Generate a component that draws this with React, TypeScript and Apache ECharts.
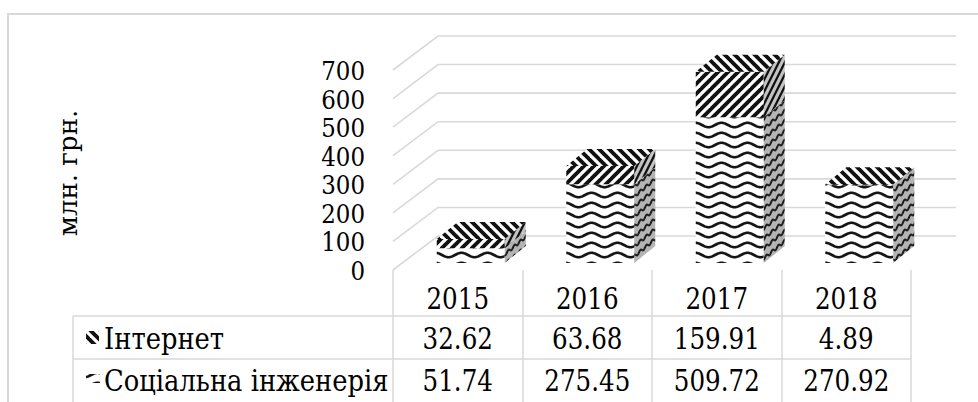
import React, { useEffect, useRef } from 'react';
import * as echarts from 'echarts';

const categories = ['2015', '2016', '2017', '2018'];
const seriesNames = ['Інтернет', 'Соціальна інженерія'];
const internet = [32.62, 63.68, 159.91, 4.89];
const social = [51.74, 275.45, 509.72, 270.92];
const yTicks = [0, 100, 200, 300, 400, 500, 600, 700];
const yAxisName = 'млн. грн.';

const FONT = 'DejaVu Serif';
const SX = 0.82;
const LINE = '#d9d9d9';
const WALL_DX = 45;
const WALL_DY = 34;
const FRONT_DX = 13;
const FRONT_DY = 7;
const BOX_DX = 21;
const BOX_DY = 17;
const FACE_RATIO = 0.525;
const HEAD_DY = 29;
const ROW1_DY = 69;
const ROW2_DY = 111;

type Ctx = CanvasRenderingContext2D;

function tile(w: number, h: number, draw: (ctx: Ctx, w: number, h: number) => void) {
  const c = document.createElement('canvas');
  c.width = w;
  c.height = h;
  const ctx = c.getContext('2d') as Ctx;
  draw(ctx, w, h);
  return { image: c, repeat: 'repeat', imageWidth: w, imageHeight: h } as any;
}

function makePatterns() {
  const waveFront = tile(26, 10, (ctx, w, h) => {
    ctx.fillStyle = '#ffffff';
    ctx.fillRect(0, 0, w, h);
    ctx.strokeStyle = '#151515';
    ctx.lineWidth = 2.6;
    ctx.beginPath();
    for (let x = -2; x <= w + 2; x += 0.5) {
      const y = h / 2 + 2.2 * Math.sin((2 * Math.PI * x) / w);
      if (x === -2) ctx.moveTo(x, y);
      else ctx.lineTo(x, y);
    }
    ctx.stroke();
  });
  const waveSide = tile(12, 10, (ctx, w, h) => {
    ctx.fillStyle = '#b4b4b4';
    ctx.fillRect(0, 0, w, h);
    ctx.strokeStyle = '#1e1e1e';
    ctx.lineWidth = 2;
    for (let k = -1; k <= 2; k++) {
      ctx.beginPath();
      for (let x = -1; x <= w + 1; x += 0.5) {
        const y = 5 + k * h - (h / w) * x + 1.4 * Math.sin((2 * Math.PI * x) / 6);
        if (x === -1) ctx.moveTo(x, y);
        else ctx.lineTo(x, y);
      }
      ctx.stroke();
    }
  });
  const stripeFront = tile(10, 10, (ctx, w, h) => {
    ctx.fillStyle = '#ffffff';
    ctx.fillRect(0, 0, w, h);
    ctx.strokeStyle = '#111111';
    ctx.lineWidth = 3.8;
    for (const c of [-10, 0, 10, 20, 30]) {
      ctx.beginPath();
      ctx.moveTo(c + 2, -2);
      ctx.lineTo(c - 12, 12);
      ctx.stroke();
    }
  });
  const stripeTop = tile(10, 10, (ctx, w, h) => {
    ctx.fillStyle = '#ffffff';
    ctx.fillRect(0, 0, w, h);
    ctx.strokeStyle = '#111111';
    ctx.lineWidth = 3.8;
    for (const c of [-20, -10, 0, 10, 20]) {
      ctx.beginPath();
      ctx.moveTo(c - 2, -2);
      ctx.lineTo(c + 12, 12);
      ctx.stroke();
    }
  });
  const stripeSide = tile(6, 12, (ctx, w, h) => {
    ctx.fillStyle = '#c4c4c4';
    ctx.fillRect(0, 0, w, h);
    ctx.strokeStyle = '#111111';
    ctx.lineWidth = 2.2;
    for (const c of [-1, 0, 1]) {
      ctx.beginPath();
      ctx.moveTo(c * 6 - 1, 14);
      ctx.lineTo(c * 6 + 7, -2);
      ctx.stroke();
    }
  });
  return { waveFront, waveSide, stripeFront, stripeTop, stripeSide };
}

function boxRenderer(front: any, side: any, top: any) {
  return (params: any, api: any) => {
    const i = api.value(0);
    const base = api.value(1);
    const topV = api.value(2);
    const p0 = api.coord([i, base]);
    const p1 = api.coord([i, topV]);
    const bw = api.size([1, 0])[0];
    const fw = bw * FACE_RATIO;
    const cx = p0[0] + FRONT_DX;
    const L = cx - fw / 2;
    const R = cx + fw / 2;
    const yb = p0[1] - FRONT_DY;
    const yt = p1[1] - FRONT_DY;
    return {
      type: 'group',
      children: [
        { type: 'rect', shape: { x: L, y: yt, width: fw, height: yb - yt }, style: { fill: front } },
        {
          type: 'polygon',
          shape: { points: [[R, yb], [R, yt], [R + BOX_DX, yt - BOX_DY], [R + BOX_DX, yb - BOX_DY]] },
          style: { fill: side },
        },
        {
          type: 'polygon',
          shape: { points: [[L, yt], [R, yt], [R + BOX_DX, yt - BOX_DY], [L + BOX_DX, yt - BOX_DY]] },
          style: { fill: top },
        },
      ],
    };
  };
}

function textEl(text: string, x: number, y: number, align: string, size: number, sx: number, extra?: any) {
  return {
    type: 'text',
    x,
    y,
    scaleX: sx,
    silent: true,
    style: {
      text,
      x: 0,
      y: 0,
      align,
      textAlign: align,
      verticalAlign: 'middle',
      textVerticalAlign: 'middle',
      fontSize: size,
      fontFamily: FONT,
      fill: '#000000',
    },
    ...(extra || {}),
  };
}

export default function App() {
  const ref = useRef<HTMLDivElement>(null);

  useEffect(() => {
    document.body.style.margin = '0';
    if (!ref.current) return;
    const chart = echarts.init(ref.current, undefined, { renderer: 'svg' });
    const P = makePatterns();

    const option: any = {
      animation: false,
      backgroundColor: '#ffffff',
      textStyle: { fontFamily: FONT },
      grid: { left: 393, top: 70, width: 518, height: 200, containLabel: false, outerBoundsMode: 'none' },
      xAxis: {
        type: 'category',
        data: categories,
        boundaryGap: true,
        axisLine: { show: false },
        axisTick: { show: true, length: 132, lineStyle: { color: LINE, width: 1.5 } },
        axisLabel: { show: false },
        splitLine: { show: false },
      },
      yAxis: {
        type: 'value',
        min: 0,
        max: 700,
        interval: 100,
        axisLine: { show: false },
        axisTick: { show: false },
        splitLine: { show: false },
        axisLabel: { show: false },
      },
      graphic: [
        {
          type: 'rect',
          shape: { x: 8, y: 14, width: 1200, height: 600 },
          style: { fill: 'none', stroke: LINE, lineWidth: 2 },
          silent: true,
          z: -10,
        },
        { type: 'line', shape: { x1: 73, y1: 316, x2: 911, y2: 316 }, style: { stroke: LINE, lineWidth: 1.5 }, silent: true },
        { type: 'line', shape: { x1: 73, y1: 359, x2: 911, y2: 359 }, style: { stroke: LINE, lineWidth: 1.5 }, silent: true },
        { type: 'line', shape: { x1: 73, y1: 316, x2: 73, y2: 410 }, style: { stroke: LINE, lineWidth: 1.5 }, silent: true },
        { type: 'rect', shape: { x: 86, y: 331, width: 13, height: 13 }, style: { fill: P.stripeTop }, silent: true },
        { type: 'rect', shape: { x: 86, y: 374, width: 14, height: 9 }, style: { fill: P.waveFront }, silent: true },
        textEl(seriesNames[0], 104, 339, 'left', 30, 0.86),
        textEl(seriesNames[1], 104, 381, 'left', 30, 0.86),
        textEl(yAxisName, 68, 173, 'center', 26, 1, { rotation: Math.PI / 2 }),
      ],
      series: [
        {
          type: 'custom',
          name: 'walls',
          silent: true,
          clip: false,
          z: 1,
          data: yTicks.map((v) => [0, v]),
          encode: { x: 0, y: 1 },
          renderItem: (params: any, api: any) => {
            const v = api.value(1);
            const cs = params.coordSys;
            const y = api.coord([0, v])[1];
            const x0 = cs.x;
            const x1 = cs.x + cs.width;
            return {
              type: 'group',
              children: [
                {
                  type: 'polyline',
                  shape: { points: [[x0, y], [x0 + WALL_DX, y - WALL_DY], [x1 + WALL_DX, y - WALL_DY]] },
                  style: { stroke: LINE, lineWidth: 1.6, fill: 'none' },
                },
                textEl(String(v), x0 - 28, y + 1, 'right', 25.5, 0.9),
              ],
            };
          },
        },
        {
          type: 'custom',
          name: seriesNames[1],
          silent: true,
          clip: false,
          z: 2,
          data: categories.map((_, i) => [i, 0, social[i]]),
          encode: { x: 0, y: 2 },
          renderItem: boxRenderer(P.waveFront, P.waveSide, P.waveFront),
        },
        {
          type: 'custom',
          name: seriesNames[0],
          silent: true,
          clip: false,
          z: 3,
          data: categories.map((_, i) => [i, social[i], social[i] + internet[i]]),
          encode: { x: 0, y: 2 },
          renderItem: boxRenderer(P.stripeFront, P.stripeSide, P.stripeTop),
        },
        {
          type: 'custom',
          name: 'table',
          silent: true,
          clip: false,
          z: 4,
          data: categories.map((_, i) => [i, internet[i], social[i]]),
          encode: { x: 0, y: 1 },
          renderItem: (params: any, api: any) => {
            const i = api.value(0);
            const x = api.coord([i, 0])[0];
            const cs = params.coordSys;
            const yb = cs.y + cs.height;
            return {
              type: 'group',
              children: [
                textEl(categories[i], x, yb + HEAD_DY, 'center', 30, SX),
                textEl(api.value(1).toFixed(2), x, yb + ROW1_DY, 'center', 30, SX),
                textEl(api.value(2).toFixed(2), x, yb + ROW2_DY, 'center', 30, SX),
              ],
            };
          },
        },
      ],
    };

    chart.setOption(option);
    return () => {
      chart.dispose();
    };
  }, []);

  return <div ref={ref} style={{ width: 978, height: 402 }} />;
}
